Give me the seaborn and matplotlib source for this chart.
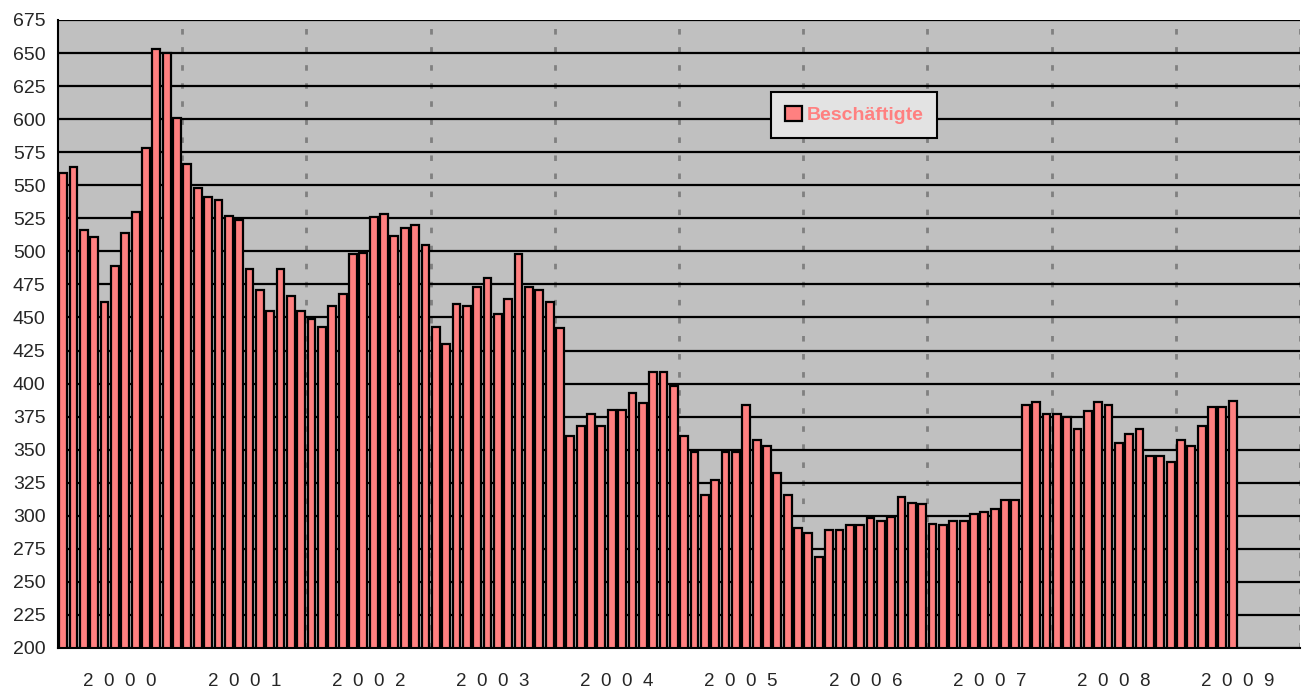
import numpy as np
import pandas as pd
import matplotlib
matplotlib.use("Agg")
import matplotlib.pyplot as plt
import seaborn as sns

# monthly values (Jan 2000 - Jun 2009)
y2000 = [559, 564, 516, 511, 462, 489, 514, 530, 578, 653, 650, 601]
y2001 = [566, 548, 541, 539, 527, 524, 487, 471, 455, 487, 466, 455]
y2002 = [449, 443, 459, 468, 498, 499, 526, 528, 512, 518, 520, 505]
y2003 = [443, 430, 460, 459, 473, 480, 453, 464, 498, 473, 471, 462]
y2004 = [442, 360, 368, 377, 368, 380, 380, 393, 385, 409, 409, 398]
y2005 = [360, 348, 316, 327, 348, 348, 384, 357, 353, 332, 316, 291]
y2006 = [287, 269, 289, 289, 293, 293, 298, 296, 299, 314, 310, 309]
y2007 = [294, 293, 296, 296, 301, 303, 305, 312, 312, 384, 386, 377]
y2008 = [377, 375, 366, 379, 386, 384, 355, 362, 366, 345, 345, 341]
y2009 = [357, 353, 368, 382, 382, 387]

years = ["2  0  0  0", "2  0  0  1", "2  0  0  2", "2  0  0  3", "2  0  0  4",
         "2  0  0  5", "2  0  0  6", "2  0  0  7", "2  0  0  8", "2  0  0  9"]

values = y2000 + y2001 + y2002 + y2003 + y2004 + y2005 + y2006 + y2007 + y2008 + y2009
months = pd.date_range("2000-01-01", periods=len(values), freq="MS").strftime("%Y-%m")
df = pd.DataFrame({"Monat": months, "Beschäftigte": values})

sns.set_style("white")
plt.rcParams["font.family"] = ["Liberation Sans", "DejaVu Sans"]

fig = plt.figure(figsize=(13.06, 6.91), dpi=100)
ax = fig.add_axes([58 / 1306, 1 - 648 / 691, 1242 / 1306, 628 / 691])
ax.set_facecolor("#C0C0C0")
ax.set_axisbelow(True)

sns.barplot(data=df, x="Monat", y="Beschäftigte", color="#FF8080", saturation=1,
            edgecolor="black", linewidth=1.6, width=0.75, ax=ax, label="Beschäftigte")

ax.set_ylim(200, 675)
ax.set_xlim(-0.5, 119.5)
ax.set_yticks(np.arange(200, 676, 25))
ax.yaxis.grid(True, color="black", linewidth=1.6)

# year boundaries as major ticks, labels centered as minor ticks
bounds = np.arange(-0.5, 120, 12)
ax.set_xticks(bounds)
ax.set_xticklabels([])
ax.set_xticks(bounds[:-1] + 6, minor=True)
ax.set_xticklabels(years, minor=True)
ax.tick_params(axis="x", which="major", length=6, width=1.5, color="black", direction="out")
ax.tick_params(axis="x", which="minor", length=0, pad=18, labelsize=13.5)
ax.tick_params(axis="y", length=6, width=1.5, color="black", direction="out", labelsize=14, pad=3)
for b in bounds[1:]:
    ax.axvline(b, color="#808080", linewidth=2, linestyle=(0, (2, 4.5)), zorder=0.5)

for s in ["top", "right"]:
    ax.spines[s].set_visible(False)
for s in ["left", "bottom"]:
    ax.spines[s].set_color("black")
    ax.spines[s].set_linewidth(1.5)
ax.set_xlabel("")
ax.set_ylabel("")

leg = ax.legend(loc="center", bbox_to_anchor=(0.641, 0.849), frameon=True, fancybox=False,
                facecolor="#E3E3E3", edgecolor="black", framealpha=1,
                handlelength=0.85, handleheight=0.85, handletextpad=0.25, borderpad=0.7,
                prop={"weight": "bold", "size": 14})
leg.get_frame().set_linewidth(1.5)
for t in leg.get_texts():
    t.set_color("#FF8080")

fig.savefig("out.png", dpi=100)
